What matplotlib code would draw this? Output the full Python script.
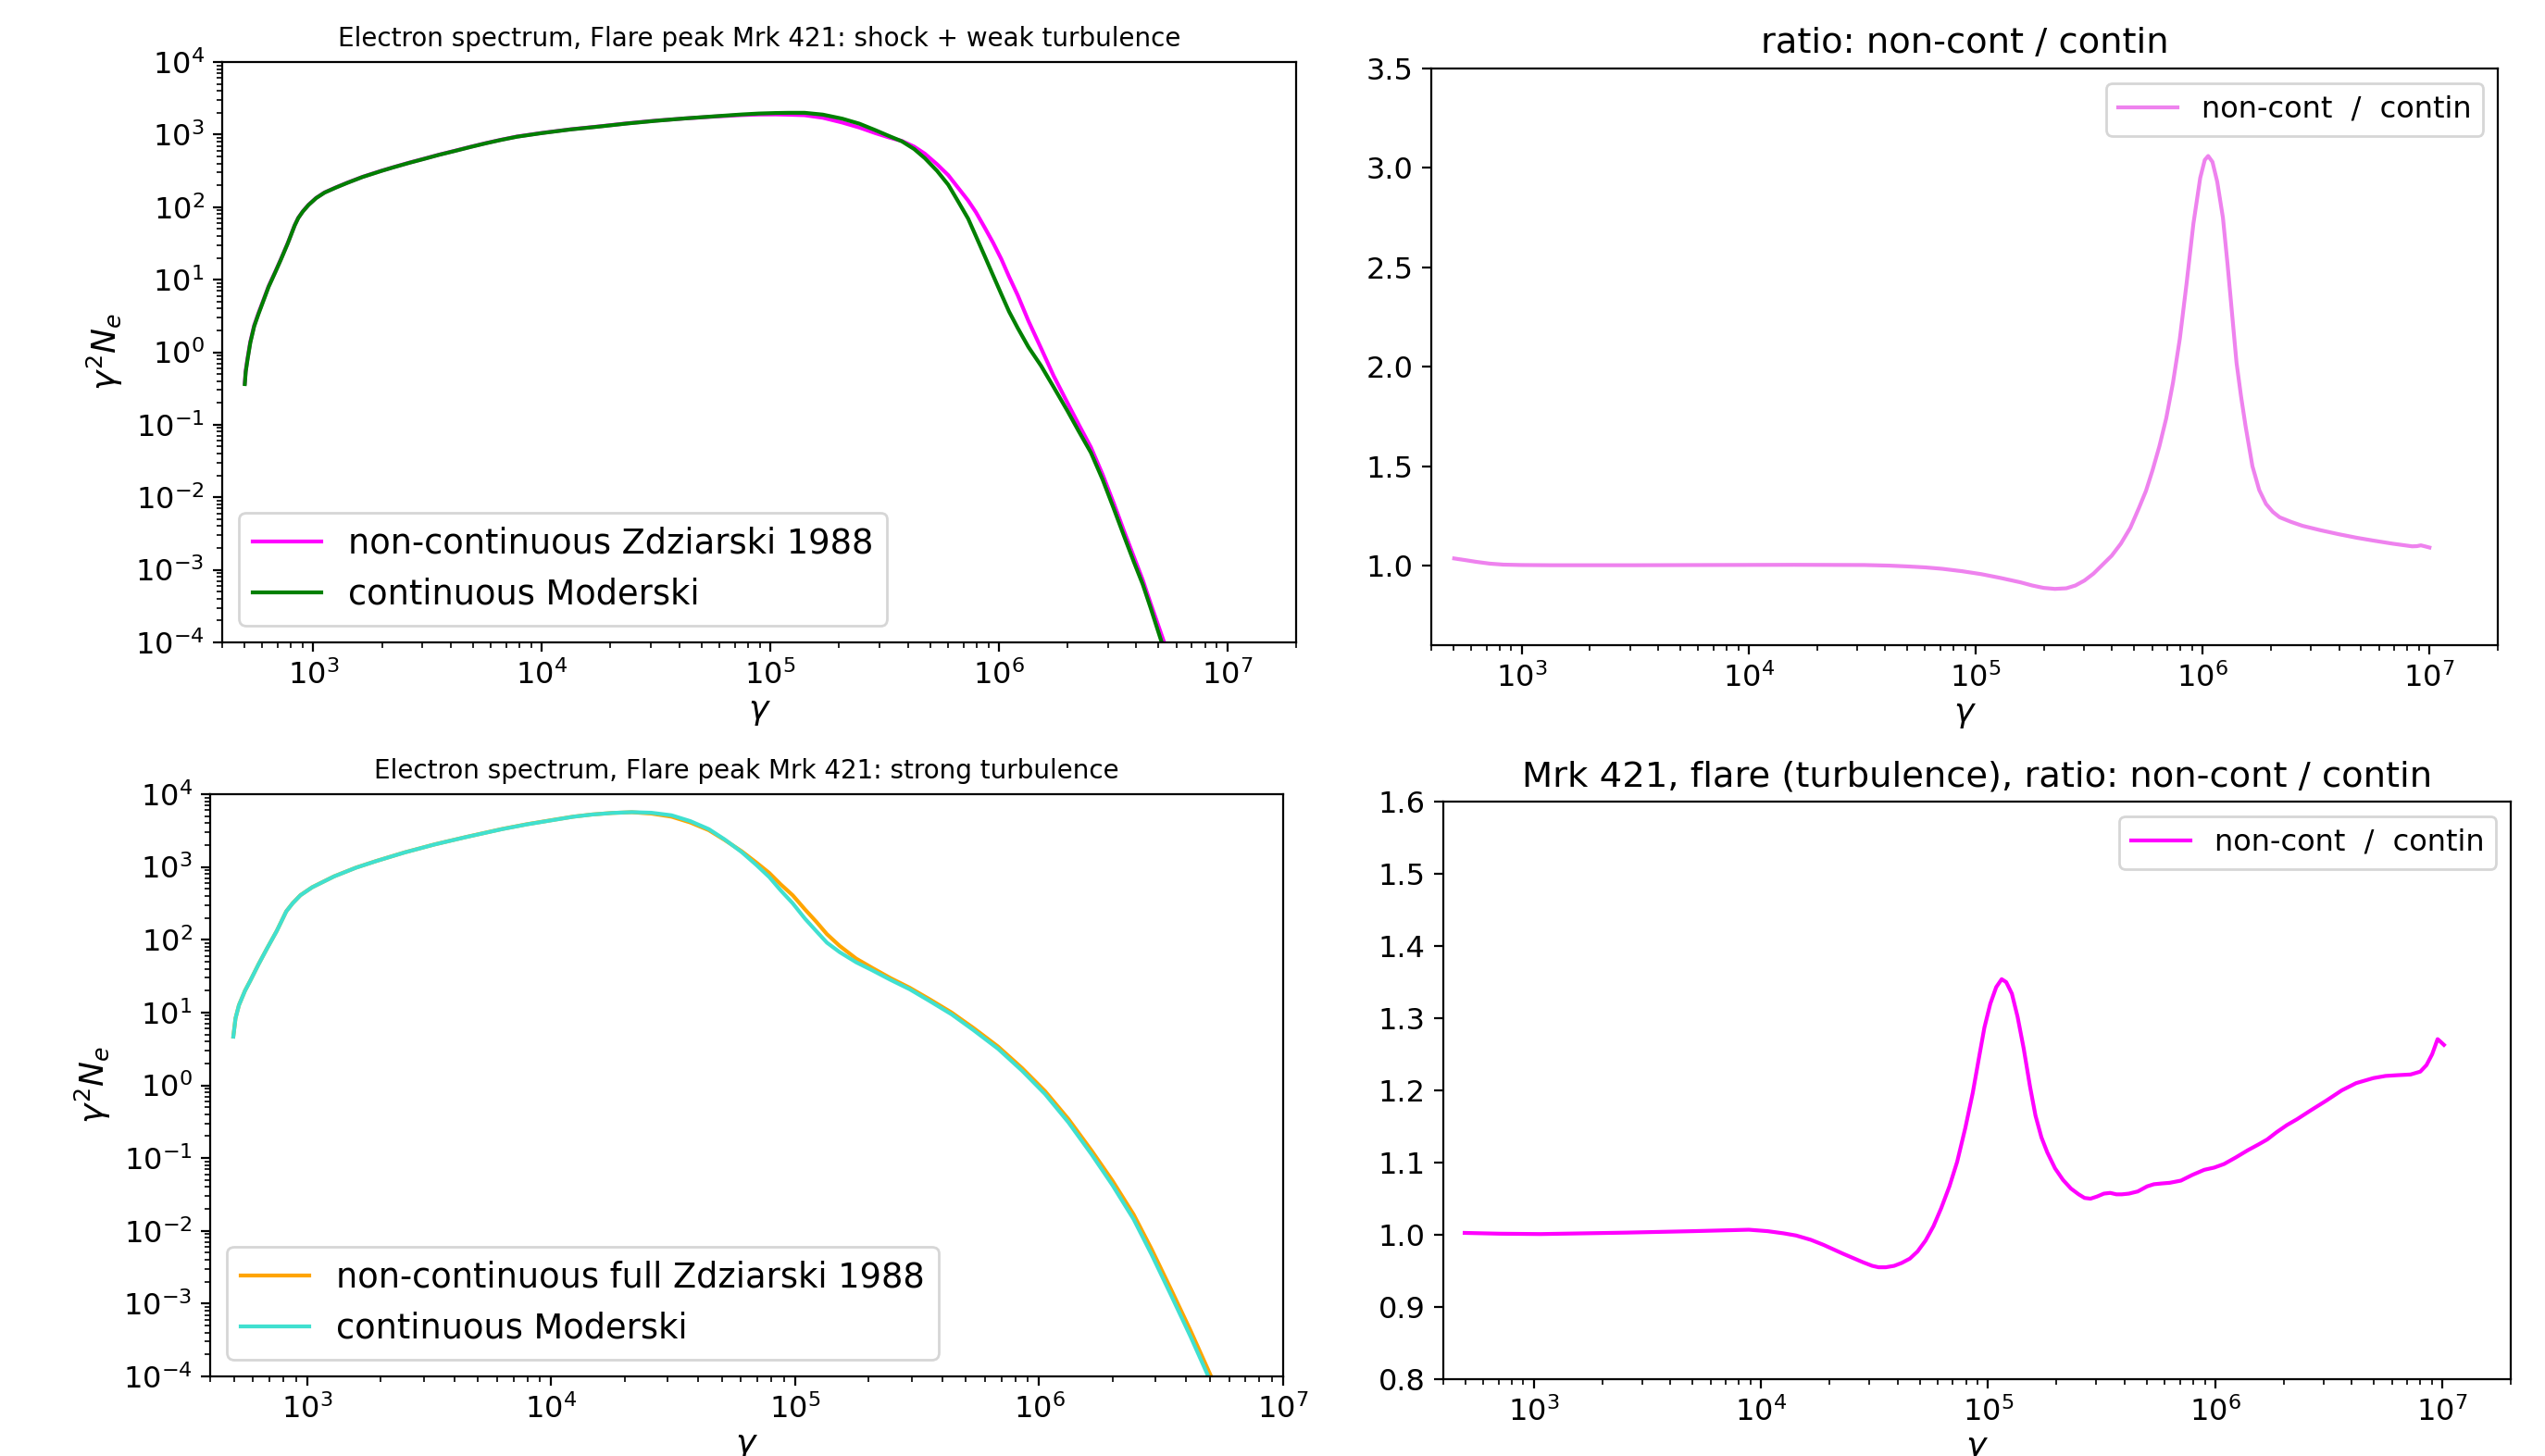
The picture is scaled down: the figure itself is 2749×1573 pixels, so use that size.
import numpy as np
import matplotlib
matplotlib.use("Agg")
import matplotlib.pyplot as plt

# ---------------- data (log10 values) ----------------
# Top-left: shock + weak turbulence
tl_green_lx = [2.701, 2.705, 2.713, 2.725, 2.742, 2.76, 2.779, 2.805, 2.834, 2.858,
               2.889, 2.919, 2.935, 2.955, 2.98, 3.013, 3.05, 3.10, 3.15, 3.216,
               3.30, 3.351, 3.42, 3.486, 3.55, 3.621, 3.69, 3.756, 3.82, 3.891,
               4.0, 4.125, 4.25, 4.375, 4.5, 4.625, 4.75, 4.875, 4.95, 5.024,
               5.08, 5.15, 5.23, 5.315, 5.39, 5.459, 5.52, 5.576, 5.63, 5.677,
               5.73, 5.779, 5.82, 5.866, 5.90, 5.939, 5.975, 6.011, 6.045, 6.083,
               6.13, 6.185, 6.24, 6.301, 6.35, 6.403, 6.455, 6.504, 6.55, 6.591,
               6.63, 6.664, 6.716]
tl_green_ly = [-0.44, -0.27, -0.10, 0.13, 0.357, 0.52, 0.68, 0.90, 1.10, 1.27,
               1.50, 1.745, 1.85, 1.94, 2.03, 2.124, 2.20, 2.27, 2.335, 2.415,
               2.50, 2.548, 2.61, 2.665, 2.72, 2.775, 2.83, 2.88, 2.925, 2.97,
               3.02, 3.07, 3.11, 3.153, 3.19, 3.222, 3.25, 3.277, 3.29, 3.297,
               3.30, 3.30, 3.275, 3.219, 3.15, 3.062, 2.98, 2.907, 2.80, 2.673,
               2.50, 2.308, 2.09, 1.841, 1.60, 1.321, 1.06, 0.801, 0.56, 0.333,
               0.07, -0.187, -0.48, -0.811, -1.09, -1.383, -1.76, -2.163, -2.55, -2.89,
               -3.2, -3.52, -4.03]

tl_mag_lx = [2.701, 2.705, 2.713, 2.725, 2.742, 2.76, 2.779, 2.805, 2.834, 2.858,
             2.889, 2.919, 2.935, 2.955, 2.98, 3.013, 3.05, 3.10, 3.15, 3.216,
             3.30, 3.351, 3.42, 3.486, 3.55, 3.621, 3.69, 3.756, 3.82, 3.891,
             4.0, 4.125, 4.25, 4.375, 4.5, 4.625, 4.75, 4.875, 4.95, 5.024,
             5.08, 5.15, 5.23, 5.315, 5.39, 5.459, 5.52, 5.576, 5.63, 5.677,
             5.73, 5.779, 5.82, 5.866, 5.90, 5.939, 5.975, 6.011, 6.045, 6.083,
             6.13, 6.185, 6.24, 6.301, 6.35, 6.403, 6.455, 6.504, 6.55, 6.591,
             6.63, 6.664, 6.727]
tl_mag_ly = [-0.425, -0.255, -0.086, 0.143, 0.369, 0.531, 0.69, 0.908, 1.107, 1.276,
             1.504, 1.748, 1.852, 1.942, 2.032, 2.126, 2.202, 2.272, 2.337, 2.417,
             2.502, 2.55, 2.612, 2.667, 2.722, 2.777, 2.832, 2.882, 2.927, 2.972,
             3.022, 3.072, 3.112, 3.155, 3.192, 3.222, 3.247, 3.269, 3.277, 3.278,
             3.274, 3.267, 3.232, 3.166, 3.097, 3.021, 2.96, 2.912, 2.833, 2.735,
             2.59, 2.44, 2.275, 2.09, 1.93, 1.715, 1.51, 1.285, 1.041, 0.785,
             0.43, 0.055, -0.325, -0.70, -0.997, -1.31, -1.69, -2.09, -2.482, -2.82,
             -3.14, -3.46, -4.03]

# Top-right: ratio non-cont / contin (weak turbulence)
tr_lx = [2.703, 2.75, 2.80, 2.86, 2.92, 3.0, 3.13, 3.5, 3.82, 4.2,
         4.51, 4.62, 4.7, 4.78, 4.853, 4.94, 5.026, 5.11, 5.198, 5.25,
         5.30, 5.35, 5.40, 5.44, 5.48, 5.52, 5.56, 5.60, 5.64, 5.682,
         5.72, 5.751, 5.78, 5.81, 5.84, 5.87, 5.90, 5.93, 5.96, 5.99,
         6.01, 6.025, 6.044, 6.065, 6.09, 6.11, 6.13, 6.15, 6.17, 6.19,
         6.22, 6.25, 6.28, 6.31, 6.34, 6.39, 6.441, 6.52, 6.6, 6.68,
         6.752, 6.84, 6.924, 6.945, 6.962, 6.98, 7.0]
tr_ratio = [1.036, 1.028, 1.019, 1.01, 1.005, 1.003, 1.002, 1.002, 1.003, 1.004,
            1.003, 1.0, 0.996, 0.991, 0.984, 0.972, 0.957, 0.938, 0.916, 0.90,
            0.888, 0.883, 0.886, 0.90, 0.925, 0.96, 1.005, 1.05, 1.11, 1.19,
            1.29, 1.376, 1.48, 1.60, 1.74, 1.92, 2.14, 2.42, 2.72, 2.95,
            3.04, 3.06, 3.03, 2.93, 2.75, 2.52, 2.27, 2.02, 1.85, 1.70,
            1.50, 1.38, 1.31, 1.27, 1.243, 1.22, 1.20, 1.178, 1.158, 1.14,
            1.126, 1.11, 1.097, 1.098, 1.102, 1.097, 1.091]

# Bottom-left: strong turbulence
bl_cyan_lx = [2.697, 2.706, 2.72, 2.745, 2.766, 2.80, 2.835, 2.875, 2.914, 2.94,
              2.972, 3.02, 3.11, 3.2, 3.282, 3.40, 3.523, 3.65, 3.799, 3.9,
              4.014, 4.09, 4.167, 4.25, 4.330, 4.41, 4.493, 4.57, 4.646, 4.71,
              4.780, 4.84, 4.894, 4.94, 4.990, 5.04, 5.086, 5.13, 5.182, 5.25,
              5.316, 5.39, 5.469, 5.55, 5.641, 5.73, 5.832, 5.93, 6.024, 6.12,
              6.215, 6.30, 6.387, 6.46, 6.540, 6.62, 6.70]
bl_cyan_ly = [0.669, 0.92, 1.10, 1.30, 1.433, 1.66, 1.879, 2.12, 2.389, 2.50,
              2.611, 2.72, 2.87, 2.99, 3.08, 3.20, 3.31, 3.41, 3.52, 3.585,
              3.648, 3.69, 3.72, 3.742, 3.753, 3.745, 3.71, 3.63, 3.52, 3.38,
              3.206, 3.03, 2.86, 2.68, 2.50, 2.29, 2.12, 1.96, 1.83, 1.69,
              1.58, 1.45, 1.32, 1.16, 0.975, 0.76, 0.50, 0.20, -0.12, -0.51,
              -0.95, -1.37, -1.84, -2.32, -2.88, -3.45, -4.05]

bl_orange_lx = [2.697, 2.706, 2.72, 2.745, 2.766, 2.80, 2.835, 2.875, 2.914, 2.94,
                2.972, 3.02, 3.11, 3.2, 3.282, 3.40, 3.523, 3.65, 3.799, 3.9,
                4.014, 4.09, 4.167, 4.25, 4.330, 4.41, 4.493, 4.57, 4.646, 4.71,
                4.780, 4.84, 4.894, 4.94, 4.990, 5.04, 5.086, 5.13, 5.182, 5.25,
                5.316, 5.39, 5.469, 5.55, 5.641, 5.73, 5.832, 5.93, 6.024, 6.12,
                6.215, 6.30, 6.387, 6.46, 6.540, 6.62, 6.71]
bl_orange_ly = [0.670, 0.921, 1.101, 1.301, 1.434, 1.661, 1.880, 2.121, 2.390, 2.501,
                2.612, 2.721, 2.871, 2.991, 3.081, 3.201, 3.311, 3.411, 3.522, 3.587,
                3.650, 3.691, 3.721, 3.742, 3.752, 3.734, 3.691, 3.611, 3.505, 3.373,
                3.217, 3.063, 2.917, 2.763, 2.61, 2.417, 2.249, 2.077, 1.916, 1.741,
                1.613, 1.474, 1.341, 1.184, 1.0, 0.789, 0.531, 0.236, -0.08, -0.464,
                -0.898, -1.309, -1.774, -2.246, -2.801, -3.367, -4.04]

# Bottom-right: ratio non-cont / contin (strong turbulence)
br_lx = [2.696, 2.85, 3.03, 3.41, 3.7, 3.947, 4.03, 4.1, 4.155, 4.22,
         4.276, 4.36, 4.449, 4.49, 4.518, 4.55, 4.587, 4.62, 4.656, 4.69,
         4.725, 4.76, 4.794, 4.83, 4.864, 4.90, 4.933, 4.96, 4.984, 5.01,
         5.036, 5.06, 5.08, 5.105, 5.13, 5.157, 5.185, 5.209, 5.235, 5.261,
         5.295, 5.330, 5.365, 5.399, 5.425, 5.451, 5.48, 5.51, 5.538, 5.565,
         5.589, 5.62, 5.659, 5.70, 5.73, 5.762, 5.80, 5.849, 5.90, 5.952,
         5.995, 6.039, 6.09, 6.143, 6.19, 6.229, 6.27, 6.316, 6.36, 6.419,
         6.49, 6.557, 6.62, 6.696, 6.75, 6.80, 6.86, 6.903, 6.93, 6.955,
         6.979, 6.99, 7.007]
br_ratio = [1.0026, 1.0015, 1.001, 1.003, 1.005, 1.007, 1.005, 1.002, 0.999, 0.993,
            0.986, 0.974, 0.962, 0.957, 0.955, 0.955, 0.957, 0.961, 0.967, 0.977,
            0.992, 1.012, 1.037, 1.067, 1.101, 1.148, 1.197, 1.245, 1.287, 1.32,
            1.343, 1.354, 1.35, 1.334, 1.302, 1.258, 1.205, 1.165, 1.135, 1.114,
            1.092, 1.076, 1.064, 1.056, 1.051, 1.05, 1.053, 1.057, 1.058, 1.056,
            1.056, 1.057, 1.06, 1.067, 1.07, 1.071, 1.072, 1.075, 1.083, 1.090,
            1.093, 1.098, 1.107, 1.117, 1.125, 1.132, 1.142, 1.152, 1.16, 1.172,
            1.186, 1.20, 1.21, 1.217, 1.22, 1.221, 1.222, 1.226, 1.235, 1.25,
            1.271, 1.268, 1.263]

# ---------------- figure ----------------
W, H, DPI = 2749, 1573, 200
fig = plt.figure(figsize=(W / DPI, H / DPI), dpi=DPI)

TICK = 11.5
LEFT_TITLE = 10.0
RIGHT_TITLE = 13.85
LEFT_LEG = 13.25
RIGHT_LEG = 11.5
LABEL = 13


def box(x0, y0, x1, y1):
    return [x0 / W, 1 - y1 / H, (x1 - x0) / W, (y1 - y0) / H]


ax_tl = fig.add_axes(box(240, 67, 1400, 694))
ax_tr = fig.add_axes(box(1546, 74, 2698, 697))
ax_bl = fig.add_axes(box(227, 858, 1386, 1487))
ax_br = fig.add_axes(box(1559, 866, 2712, 1490))


def p(a):
    return 10.0 ** np.asarray(a, dtype=float)


# top-left
ax_tl.plot(p(tl_mag_lx), p(tl_mag_ly), color="magenta", lw=1.5, label="non-continuous Zdziarski 1988")
ax_tl.plot(p(tl_green_lx), p(tl_green_ly), color="green", lw=1.5, label="continuous Moderski")
ax_tl.set_xscale("log"); ax_tl.set_yscale("log")
ax_tl.set_xlim(4e2, 2e7)
ax_tl.set_title("Electron spectrum, Flare peak Mrk 421: shock + weak turbulence", fontsize=LEFT_TITLE)
ax_tl.legend(loc="lower left", fontsize=LEFT_LEG)

# top-right
ax_tr.plot(p(tr_lx), tr_ratio, color="violet", lw=1.5, label="non-cont  /  contin")
ax_tr.set_xscale("log")
ax_tr.set_xlim(4e2, 2e7); ax_tr.set_ylim(0.6, 3.5)
ax_tr.set_title("ratio: non-cont / contin", fontsize=RIGHT_TITLE)
ax_tr.legend(loc="upper right", fontsize=RIGHT_LEG)

# bottom-left
ax_bl.plot(p(bl_orange_lx), p(bl_orange_ly), color="orange", lw=1.5, label="non-continuous full Zdziarski 1988")
ax_bl.plot(p(bl_cyan_lx), p(bl_cyan_ly), color="turquoise", lw=1.5, label="continuous Moderski")
ax_bl.set_xscale("log"); ax_bl.set_yscale("log")
ax_bl.set_xlim(4e2, 1e7)
ax_bl.set_title("Electron spectrum, Flare peak Mrk 421: strong turbulence", fontsize=LEFT_TITLE)
ax_bl.legend(loc="lower left", fontsize=LEFT_LEG)

# bottom-right
ax_br.plot(p(br_lx), br_ratio, color="magenta", lw=1.5, label="non-cont  /  contin")
ax_br.set_xscale("log")
ax_br.set_xlim(4e2, 2e7); ax_br.set_ylim(0.8, 1.6)
ax_br.set_title("Mrk 421, flare (turbulence), ratio: non-cont / contin", fontsize=RIGHT_TITLE)
ax_br.legend(loc="upper right", fontsize=RIGHT_LEG)

for ax in (ax_tl, ax_tr, ax_bl, ax_br):
    ax.tick_params(labelsize=TICK)
    ax.set_xlabel(r"$\gamma$", fontsize=LABEL, labelpad=2)
for ax in (ax_tl, ax_bl):
    ax.set_ylabel(r"$\gamma^2 N_e$", fontsize=LABEL)
    ax.set_yticks(p(np.arange(-4, 5)))
    ax.set_ylim(1e-4, 1e4)

fig.savefig("out.png", dpi=DPI)
